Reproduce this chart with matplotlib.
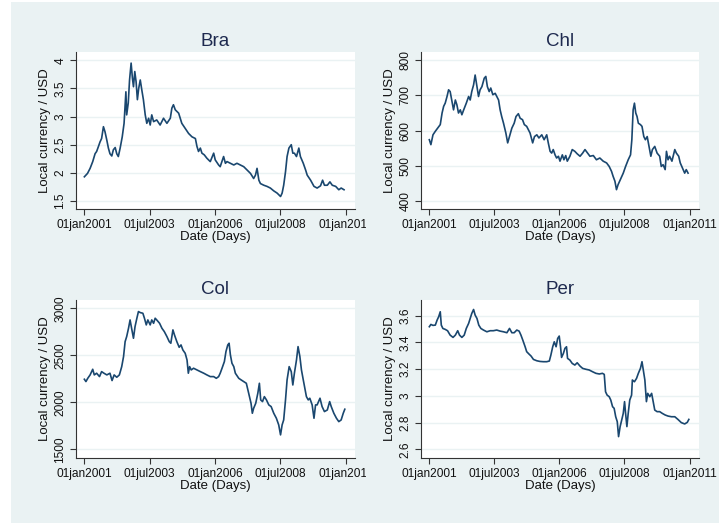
import matplotlib
matplotlib.use("Agg")
import matplotlib.pyplot as plt
from matplotlib.patches import Rectangle
from matplotlib.transforms import Bbox, TransformedBbox

plt.rcParams['font.family'] = ['Liberation Sans', 'DejaVu Sans']

# exchange rates (decimal year, local currency per USD)
bra_t = [2001.00, 2001.12, 2001.22, 2001.32, 2001.41, 2001.47, 2001.54, 2001.60, 2001.66, 2001.73,
         2001.79, 2001.86, 2001.92, 2001.98, 2002.05, 2002.11, 2002.18, 2002.24, 2002.30, 2002.37,
         2002.45, 2002.52, 2002.59, 2002.62, 2002.68, 2002.73, 2002.79, 2002.84, 2002.88, 2002.93,
         2002.98, 2003.03, 2003.08, 2003.14, 2003.20, 2003.26, 2003.33, 2003.39, 2003.46, 2003.52,
         2003.58, 2003.65, 2003.77, 2003.90, 2004.03, 2004.16, 2004.29, 2004.35, 2004.41, 2004.48,
         2004.61, 2004.73, 2004.86, 2004.99, 2005.12, 2005.25, 2005.31, 2005.37, 2005.44, 2005.50,
         2005.59, 2005.69, 2005.82, 2005.95, 2006.01, 2006.14, 2006.20, 2006.33, 2006.40, 2006.46,
         2006.59, 2006.72, 2006.84, 2006.97, 2007.10, 2007.23, 2007.36, 2007.48, 2007.55, 2007.61,
         2007.68, 2007.74, 2007.87, 2007.99, 2008.12, 2008.25, 2008.38, 2008.51, 2008.57, 2008.63,
         2008.70, 2008.76, 2008.83, 2008.92, 2008.98, 2009.04, 2009.12, 2009.21, 2009.27, 2009.38,
         2009.47, 2009.53, 2009.66, 2009.79, 2009.91, 2010.04, 2010.12, 2010.19, 2010.30, 2010.40,
         2010.49, 2010.62, 2010.74, 2010.83, 2010.94]
bra_v = [1.93, 1.99, 2.08, 2.20, 2.34, 2.38, 2.47, 2.55, 2.61, 2.82,
         2.73, 2.58, 2.44, 2.34, 2.30, 2.41, 2.45, 2.34, 2.29, 2.44,
         2.64, 2.88, 3.44, 3.03, 3.24, 3.65, 3.95, 3.68, 3.53, 3.80,
         3.62, 3.30, 3.50, 3.65, 3.47, 3.30, 3.03, 2.88, 2.97, 2.85,
         3.03, 2.91, 2.94, 2.85, 2.97, 2.88, 2.97, 3.15, 3.21, 3.12,
         3.06, 2.88, 2.79, 2.70, 2.64, 2.61, 2.47, 2.38, 2.44, 2.35,
         2.32, 2.26, 2.20, 2.35, 2.23, 2.14, 2.11, 2.29, 2.17, 2.20,
         2.17, 2.14, 2.17, 2.14, 2.11, 2.05, 1.99, 1.90, 1.96, 2.08,
         1.87, 1.81, 1.78, 1.76, 1.73, 1.68, 1.64, 1.58, 1.64, 1.78,
         2.02, 2.29, 2.44, 2.50, 2.35, 2.35, 2.29, 2.44, 2.29, 2.17,
         2.05, 1.96, 1.87, 1.76, 1.73, 1.77, 1.87, 1.78, 1.78, 1.84,
         1.78, 1.76, 1.70, 1.73, 1.70]

chl_t = [2001.00, 2001.06, 2001.14, 2001.23, 2001.32, 2001.42, 2001.49, 2001.55, 2001.61, 2001.68,
         2001.74, 2001.80, 2001.87, 2001.93, 2002.00, 2002.06, 2002.12, 2002.19, 2002.25, 2002.32,
         2002.42, 2002.51, 2002.57, 2002.63, 2002.70, 2002.76, 2002.83, 2002.89, 2002.95, 2003.02,
         2003.11, 2003.17, 2003.23, 2003.30, 2003.36, 2003.44, 2003.53, 2003.59, 2003.66, 2003.72,
         2003.78, 2003.85, 2003.94, 2004.01, 2004.08, 2004.17, 2004.26, 2004.33, 2004.42, 2004.49,
         2004.58, 2004.65, 2004.74, 2004.81, 2004.87, 2004.97, 2005.04, 2005.13, 2005.21, 2005.32,
         2005.41, 2005.51, 2005.57, 2005.64, 2005.70, 2005.76, 2005.83, 2005.89, 2005.96, 2006.02,
         2006.11, 2006.17, 2006.24, 2006.30, 2006.40, 2006.49, 2006.59, 2006.68, 2006.79, 2006.89,
         2006.98, 2007.08, 2007.17, 2007.30, 2007.42, 2007.55, 2007.68, 2007.81, 2007.91, 2008.00,
         2008.06, 2008.13, 2008.19, 2008.25, 2008.34, 2008.45, 2008.54, 2008.64, 2008.73, 2008.78,
         2008.83, 2008.88, 2008.93, 2008.98, 2009.03, 2009.11, 2009.17, 2009.24, 2009.30, 2009.37,
         2009.44, 2009.51, 2009.57, 2009.66, 2009.75, 2009.85, 2009.91, 2009.98, 2010.06, 2010.11,
         2010.17, 2010.23, 2010.32, 2010.43, 2010.49, 2010.58, 2010.64, 2010.72, 2010.81, 2010.87,
         2010.94]
chl_v = [574, 560, 588, 598, 607, 617, 650, 669, 678, 697,
         716, 711, 683, 659, 687, 673, 650, 659, 645, 659,
         678, 697, 687, 711, 730, 758, 725, 697, 716, 725,
         749, 754, 725, 711, 721, 702, 706, 697, 687, 659,
         640, 621, 593, 565, 583, 607, 621, 640, 648, 635,
         631, 617, 612, 602, 593, 565, 583, 588, 579, 588,
         574, 588, 565, 541, 536, 546, 531, 522, 527, 513,
         531, 517, 529, 513, 527, 546, 541, 534, 527, 536,
         546, 536, 527, 529, 517, 522, 513, 508, 498, 484,
         470, 456, 432, 446, 461, 479, 498, 517, 531, 574,
         659, 678, 650, 640, 621, 617, 612, 583, 574, 583,
         555, 527, 546, 555, 536, 527, 498, 503, 489, 541,
         517, 527, 513, 546, 536, 527, 508, 494, 479, 489,
         479]

col_t = [2001.00, 2001.06, 2001.13, 2001.22, 2001.32, 2001.38, 2001.47, 2001.58, 2001.66, 2001.75,
         2001.86, 2001.98, 2002.06, 2002.14, 2002.24, 2002.34, 2002.43, 2002.50, 2002.56, 2002.62,
         2002.69, 2002.75, 2002.82, 2002.88, 2002.94, 2003.01, 2003.07, 2003.14, 2003.24, 2003.30,
         2003.37, 2003.43, 2003.52, 2003.58, 2003.65, 2003.71, 2003.77, 2003.88, 2003.97, 2004.06,
         2004.16, 2004.25, 2004.31, 2004.39, 2004.45, 2004.54, 2004.63, 2004.70, 2004.77, 2004.86,
         2004.93, 2004.98, 2005.03, 2005.09, 2005.18, 2005.31, 2005.44, 2005.57, 2005.69, 2005.82,
         2005.95, 2006.05, 2006.14, 2006.20, 2006.27, 2006.36, 2006.42, 2006.49, 2006.54, 2006.59,
         2006.65, 2006.72, 2006.78, 2006.91, 2007.00, 2007.10, 2007.20, 2007.29, 2007.38, 2007.43,
         2007.48, 2007.56, 2007.64, 2007.70, 2007.75, 2007.82, 2007.89, 2007.97, 2008.06, 2008.15,
         2008.25, 2008.35, 2008.44, 2008.51, 2008.57, 2008.63, 2008.70, 2008.76, 2008.84, 2008.92,
         2008.98, 2009.04, 2009.12, 2009.18, 2009.25, 2009.31, 2009.38, 2009.44, 2009.50, 2009.57,
         2009.63, 2009.72, 2009.79, 2009.85, 2009.91, 2010.02, 2010.10, 2010.19, 2010.30, 2010.39,
         2010.45, 2010.55, 2010.65, 2010.74, 2010.83, 2010.91, 2010.97]
col_v = [2245, 2220, 2255, 2291, 2351, 2291, 2309, 2273, 2326, 2309,
         2291, 2309, 2231, 2291, 2266, 2291, 2379, 2486, 2645, 2699,
         2787, 2876, 2770, 2681, 2805, 2894, 2965, 2954, 2947, 2894,
         2823, 2876, 2823, 2876, 2840, 2894, 2876, 2840, 2787, 2752,
         2699, 2645, 2628, 2770, 2716, 2645, 2585, 2610, 2557, 2521,
         2450, 2309, 2379, 2344, 2362, 2344, 2326, 2309, 2291, 2273,
         2273, 2255, 2273, 2309, 2362, 2433, 2539, 2610, 2628, 2504,
         2415, 2379, 2309, 2255, 2238, 2220, 2202, 2096, 1989, 1883,
         1936, 1989, 2096, 2202, 2025, 2007, 2060, 2025, 1972, 1954,
         1883, 1830, 1759, 1653, 1759, 1812, 2025, 2238, 2379, 2326,
         2184, 2309, 2450, 2592, 2486, 2344, 2238, 2149, 2060, 2025,
         2043, 1972, 1830, 1972, 1972, 2043, 1954, 1901, 1918, 2007,
         1954, 1883, 1830, 1794, 1812, 1883, 1926]

per_t = [2001.00, 2001.06, 2001.14, 2001.23, 2001.30, 2001.36, 2001.42, 2001.46, 2001.52, 2001.61,
         2001.70, 2001.80, 2001.91, 2002.00, 2002.09, 2002.16, 2002.25, 2002.34, 2002.42, 2002.51,
         2002.57, 2002.63, 2002.70, 2002.76, 2002.83, 2002.90, 2002.98, 2003.08, 2003.21, 2003.34,
         2003.46, 2003.59, 2003.72, 2003.85, 2003.98, 2004.08, 2004.17, 2004.26, 2004.36, 2004.45,
         2004.52, 2004.59, 2004.68, 2004.74, 2004.83, 2004.91, 2005.00, 2005.13, 2005.25, 2005.38,
         2005.51, 2005.61, 2005.67, 2005.74, 2005.80, 2005.87, 2005.93, 2005.99, 2006.04, 2006.08,
         2006.15, 2006.21, 2006.27, 2006.31, 2006.40, 2006.49, 2006.59, 2006.68, 2006.79, 2006.89,
         2007.02, 2007.14, 2007.27, 2007.40, 2007.53, 2007.65, 2007.72, 2007.77, 2007.83, 2007.91,
         2007.97, 2008.04, 2008.10, 2008.16, 2008.22, 2008.27, 2008.33, 2008.39, 2008.45, 2008.50,
         2008.54, 2008.59, 2008.64, 2008.70, 2008.77, 2008.80, 2008.88, 2008.96, 2009.03, 2009.11,
         2009.17, 2009.22, 2009.28, 2009.34, 2009.39, 2009.47, 2009.54, 2009.60, 2009.66, 2009.75,
         2009.85, 2009.95, 2010.06, 2010.17, 2010.30, 2010.43, 2010.55, 2010.68, 2010.81, 2010.91,
         2010.97]
per_v = [3.518, 3.535, 3.528, 3.530, 3.568, 3.593, 3.630, 3.530, 3.505, 3.498,
         3.488, 3.455, 3.438, 3.455, 3.488, 3.455, 3.438, 3.455, 3.505, 3.543,
         3.580, 3.617, 3.647, 3.605, 3.580, 3.530, 3.505, 3.493, 3.480, 3.488,
         3.488, 3.493, 3.485, 3.480, 3.473, 3.505, 3.473, 3.473, 3.493, 3.485,
         3.455, 3.418, 3.368, 3.331, 3.313, 3.298, 3.273, 3.263, 3.258, 3.256,
         3.256, 3.261, 3.306, 3.368, 3.405, 3.368, 3.430, 3.448, 3.368, 3.288,
         3.318, 3.356, 3.368, 3.281, 3.268, 3.243, 3.231, 3.248, 3.223, 3.206,
         3.199, 3.194, 3.181, 3.169, 3.164, 3.169, 3.161, 3.031, 3.006, 2.994,
         2.969, 2.919, 2.907, 2.844, 2.807, 2.695, 2.770, 2.819, 2.869, 2.957,
         2.869, 2.770, 2.869, 2.969, 3.006, 3.119, 3.106, 3.131, 3.169, 3.206,
         3.256, 3.194, 3.119, 2.957, 3.019, 2.994, 3.019, 2.957, 2.894, 2.882,
         2.882, 2.869, 2.857, 2.849, 2.844, 2.844, 2.824, 2.800, 2.790, 2.802,
         2.824]

titles = ["Bra", "Chl", "Col", "Per"]
series = [(bra_t, bra_v), (chl_t, chl_v), (col_t, col_v), (per_t, per_v)]
yticks = [[1.5, 2, 2.5, 3, 3.5, 4],
          [400, 500, 600, 700, 800],
          [1500, 2000, 2500, 3000],
          [2.6, 2.8, 3, 3.2, 3.4, 3.6]]
yticklabels = [["1.5", "2", "2.5", "3", "3.5", "4"],
               ["400", "500", "600", "700", "800"],
               ["1500", "2000", "2500", "3000"],
               ["2.6", "2.8", "3", "3.2", "3.4", "3.6"]]
ylims = [(1.358, 4.147), (377, 823.5), (1407, 3088), (2.535, 3.718)]
xticks = [2001.0, 2003.496, 2006.0, 2008.497, 2011.0]
xticklabels = ["01jan2001", "01jul2003", "01jan2006", "01jul2008", "01jan2011"]

W, H = 719, 523
fig = plt.figure(figsize=(W / 100, H / 100), dpi=100, facecolor="white")
fig.patches.append(Rectangle((11 / W, 0), 1 - 11 / W, 1 - 2 / H, transform=fig.transFigure,
                             facecolor="#eaf2f3", edgecolor="none", zorder=-10))

lefts = [76, 421, 76, 421]
rights = [355, 699, 355, 699]
tops = [52, 52, 300, 300]
bottoms = [209, 209, 458, 458]
navy = "#1a476f"

axes = []
for i in range(4):
    ax = fig.add_axes([lefts[i] / W, 1 - bottoms[i] / H,
                       (rights[i] - lefts[i]) / W, (bottoms[i] - tops[i]) / H])
    ax.set_facecolor("white")
    t, v = series[i]
    ax.plot(t, v, color=navy, lw=1.2)
    ax.set_xlim(2000.68, 2011.36)
    ax.set_ylim(*ylims[i])
    ax.set_xticks(xticks)
    ax.set_xticklabels(xticklabels, fontsize=8.6)
    ax.set_yticks(yticks[i])
    ax.set_yticklabels(yticklabels[i], fontsize=8.6, rotation=90, va="center")
    ax.grid(axis="y", color="#eaf2f3", lw=1.0)
    ax.set_axisbelow(True)
    for s in ["top", "right"]:
        ax.spines[s].set_visible(False)
    for s in ["left", "bottom"]:
        ax.spines[s].set_color("#333333")
        ax.spines[s].set_linewidth(0.8)
    ax.tick_params(length=4.5, width=0.8, color="#333333", pad=2.5, labelcolor="#111111")
    ax.set_title(titles[i], fontsize=13.5, color="#1e2a4f", pad=4)
    ax.set_xlabel("Date (Days)", fontsize=9.5, labelpad=0, color="#111111")
    ax.set_ylabel("Local currency / USD", fontsize=9.5, labelpad=2, color="#111111")
    axes.append(ax)

# left panels: last date label is cut off by the neighbouring panel
fig.canvas.draw()
clip = TransformedBbox(Bbox([[0, 0], [366 / W, 1]]), fig.transFigure)
for ax in [axes[0], axes[2]]:
    for lab in ax.get_xticklabels():
        lab.set_clip_box(clip)
        lab.set_clip_on(True)

fig.savefig("out.png", dpi=100, facecolor="white")
